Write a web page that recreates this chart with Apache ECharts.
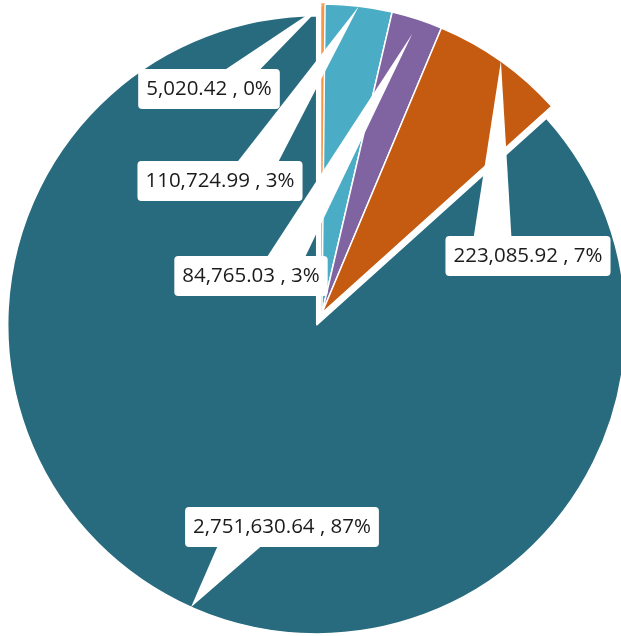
<!DOCTYPE html>
<html><head><meta charset="utf-8">
<script src="https://cdn.jsdelivr.net/npm/echarts@6/dist/echarts.min.js"></script>
<style>html,body{margin:0;padding:0;background:#fff}#c{width:621px;height:636px}</style>
</head><body><div id="c"></div>
<script>
// ---- data ----
const categories = ['Slice 1', 'Slice 2', 'Slice 3', 'Slice 4', 'Slice 5'];
const values = [5020.42, 110724.99, 84765.03, 223085.92, 2751630.64];
const explodedIndex = 4;

// ---- styling / layout ----
const colors = ['#F79646', '#4BACC6', '#8064A2', '#C55A11', '#286B7E'];
const borderColors = ['#F79646', '#fff', '#fff', '#fff', '#fff'];
const labelCenters = [[209, 89], [220, 181], [251, 276], [528, 256], [282, 527]];
const tipRadiusFrac = [1, 1, 0.95, 1, 1];
const FONT_SIZE = 20.5, FONT_FAMILY = '"Open Sans", "Liberation Sans", sans-serif';
const PAD_V = 9, PAD_H = 8, LINE_H = 22;
const CX = 322, CY = 313, R = 309, OFFSET = 13;

function fmt(v) { return v.toLocaleString('en-US', {minimumFractionDigits: 2, maximumFractionDigits: 2}); }
function labelText(p) { return fmt(p.value) + ' , ' + p.percent + '%'; }

const baseSeries = {
  type: 'pie',
  radius: R,
  startAngle: 90,
  clockwise: true,
  percentPrecision: 0,
  avoidLabelOverlap: false,
  silent: true,
  emphasis: {disabled: true},
  labelLine: {show: false}
};

function buildOption(explodedCenter) {
  return {
    animation: false,
    series: [
      Object.assign({}, baseSeries, {
        id: 'main', z: 2,
        center: [CX, CY],
        data: values.map((v, i) => ({
          name: categories[i], value: v,
          itemStyle: i === explodedIndex
            ? {color: 'rgba(0,0,0,0)', borderWidth: 0}
            : {color: colors[i], borderColor: borderColors[i], borderWidth: 1.5}
        })),
        label: {
          show: true,
          position: 'outside',
          formatter: labelText,
          color: '#1b1b1b',
          fontFamily: FONT_FAMILY,
          fontSize: FONT_SIZE,
          lineHeight: LINE_H,
          backgroundColor: '#fff',
          borderRadius: 4,
          padding: [PAD_V, PAD_H]
        },
        labelLayout: p => ({x: labelCenters[p.dataIndex][0], y: labelCenters[p.dataIndex][1], align: 'center', verticalAlign: 'middle'})
      }),
      Object.assign({}, baseSeries, {
        id: 'exploded', z: 1,
        center: explodedCenter,
        data: values.map((v, i) => ({
          name: categories[i], value: v,
          itemStyle: i === explodedIndex
            ? {color: colors[i], borderColor: '#fff', borderWidth: 1.5}
            : {color: 'rgba(0,0,0,0)', borderWidth: 0}
        })),
        label: {show: false}
      })
    ]
  };
}

const chart = echarts.init(document.getElementById('c'), null, {renderer: 'canvas'});
chart.setOption(buildOption([CX, CY]));

// exploded centre from the pie's own layout of the big slice
let data = chart.getModel().getSeriesByIndex(0).getData();
const LE = data.getItemLayout(explodedIndex);
const midE = (LE.startAngle + LE.endAngle) / 2;
const explodedCenter = [CX + Math.cos(midE) * OFFSET, CY + Math.sin(midE) * OFFSET];
chart.setOption(buildOption(explodedCenter));

// ---- callout pointers, tips placed from the pie's own layout ----
const ctx = document.createElement('canvas').getContext('2d');
ctx.font = FONT_SIZE + 'px ' + FONT_FAMILY;
const model = chart.getModel();
const polys = values.map((v, i) => {
  const sIdx = i === explodedIndex ? 1 : 0;
  const L = model.getSeriesByIndex(sIdx).getData().getItemLayout(i);
  const mid = (L.startAngle + L.endAngle) / 2;
  const r = L.r * tipRadiusFrac[i];
  const tip = [L.cx + r * Math.cos(mid), L.cy + r * Math.sin(mid)];
  const params = model.getSeriesByIndex(0).getDataParams(i);
  const w = ctx.measureText(labelText(params)).width + 2 * PAD_H;
  const h = LINE_H + 2 * PAD_V;
  const [lx, ly] = labelCenters[i];
  const left = lx - w / 2, top = ly - h / 2;
  const edgeY = tip[1] < top ? top + 2 : top + h - 2;
  const fr = tip[0] > lx ? [0.6, 0.85] : [0.17, 0.4];
  return {
    type: 'polygon', z: 10, silent: true,
    shape: {points: [[left + fr[0] * w, edgeY], tip, [left + fr[1] * w, edgeY]]},
    style: {fill: '#fff'}
  };
});
chart.setOption({graphic: polys});
</script></body></html>
